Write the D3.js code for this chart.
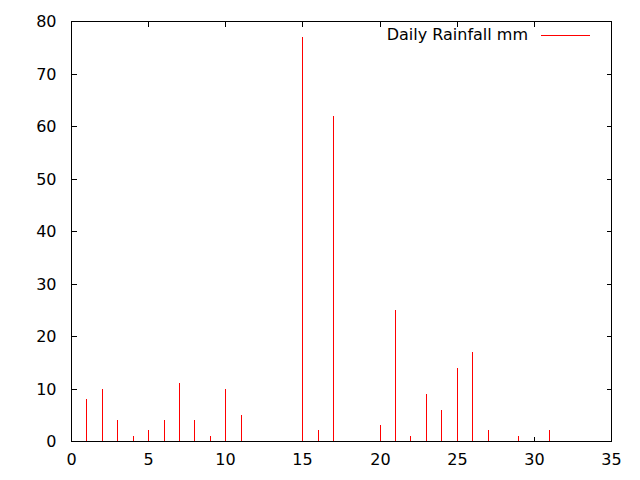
<!DOCTYPE html>
<html><head><meta charset="utf-8">
<script src="https://cdn.jsdelivr.net/npm/d3@7"></script>
<style>body{margin:0;background:#fff}svg{display:block}text{font-family:"DejaVu Sans",sans-serif;font-size:16px;fill:#000}</style>
</head><body>
<script>
const days = [1,2,3,4,5,6,7,8,9,10,11,15,16,17,20,21,22,23,24,25,26,27,29,31];
const rain = [8,10,4,1,2,4,11,4,1,10,5,77,2,62,3,25,1,9,6,14,17,2,1,2];
const xTicks = [0,5,10,15,20,25,30,35];
const yTicks = [0,10,20,30,40,50,60,70,80];
const legendLabel = "Daily Rainfall mm";

const W=640,H=480,L=71,R=611,T=21,B=441;
const svg=d3.select("body").append("svg").attr("width",W).attr("height",H);
const x=d3.scaleLinear().domain([0,35]).range([L,R]).interpolate(d3.interpolateRound);
const y=d3.scaleLinear().domain([0,80]).range([B,T]).interpolate(d3.interpolateRound);

// axes with mirrored ticks
const tk=5;
const g=svg.append("g").attr("shape-rendering","crispEdges");
g.append("g").attr("transform",`translate(0,${B+0.5})`).call(d3.axisBottom(x).tickValues(xTicks).tickSize(-tk).tickSizeOuter(0).tickPadding(12).offset(0.5))
  .call(a=>a.select(".domain").remove());
g.append("g").attr("transform",`translate(0,${T+0.5})`).call(d3.axisTop(x).tickValues(xTicks).tickSize(-tk).tickSizeOuter(0).tickFormat("").offset(0.5))
  .call(a=>a.select(".domain").remove());
g.append("g").attr("transform",`translate(${L+0.5},0)`).call(d3.axisLeft(y).tickValues(yTicks).tickSize(-tk).tickSizeOuter(0).tickPadding(15).offset(0.5))
  .call(a=>a.select(".domain").remove());
g.append("g").attr("transform",`translate(${R+0.5},0)`).call(d3.axisRight(y).tickValues(yTicks).tickSize(-tk).tickSizeOuter(0).tickFormat("").offset(0.5))
  .call(a=>a.select(".domain").remove());
svg.selectAll(".tick text").attr("font-family","DejaVu Sans").attr("font-size",16).attr("fill","#000");
svg.selectAll(".tick line").attr("stroke","#000");

// impulses (drawn over the ticks)
svg.append("g").selectAll("line").data(days).join("line")
  .attr("x1",d=>x(d)+0.5).attr("x2",d=>x(d)+0.5)
  .attr("y1",B).attr("y2",(d,i)=>y(rain[i]))
  .attr("stroke","#ff0000").attr("stroke-width",1).attr("shape-rendering","crispEdges");

svg.append("rect").attr("x",L+0.5).attr("y",T+0.5).attr("width",R-L).attr("height",B-T)
  .attr("fill","none").attr("stroke","#000").attr("shape-rendering","crispEdges");

// legend
svg.append("text").attr("x",528).attr("y",40).attr("text-anchor","end").text(legendLabel);
svg.append("line").attr("x1",541).attr("x2",590).attr("y1",35.5).attr("y2",35.5)
  .attr("stroke","#ff0000").attr("shape-rendering","crispEdges");
</script>
</body></html>
